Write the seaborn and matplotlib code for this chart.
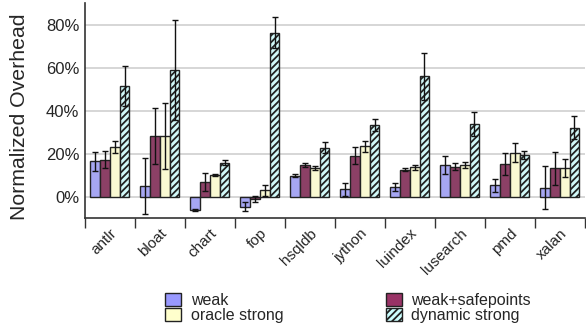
import numpy as np
import pandas as pd
import matplotlib
matplotlib.use("Agg")
import matplotlib.pyplot as plt
from matplotlib.patches import Patch
import seaborn as sns

categories = ["antlr", "bloat", "chart", "fop", "hsqldb", "jython", "luindex", "lusearch", "pmd", "xalan"]
series = ["weak", "weak+safepoints", "oracle strong", "dynamic strong"]
weak = [16.5, 4.9, -6.2, -4.8, 9.8, 3.4, 4.3, 14.6, 5.2, 4.2]
weak_err = [4.4, 13.2, 0.6, 2.1, 0.9, 3.0, 1.8, 4.1, 3.1, 10.0]
safepoints = [17.2, 28.2, 6.8, -1.1, 14.8, 19.1, 12.6, 14.0, 15.1, 13.2]
safepoints_err = [3.9, 13.0, 4.4, 1.2, 0.8, 3.8, 0.8, 1.7, 5.2, 7.6]
oracle = [23.1, 28.2, 10.0, 2.9, 13.5, 23.4, 13.7, 14.8, 20.5, 13.5]
oracle_err = [3.0, 15.4, 0.3, 2.5, 0.9, 2.7, 1.1, 1.4, 4.3, 4.2]
dynamic = [51.4, 58.8, 15.8, 76.3, 22.8, 33.4, 56.0, 33.8, 19.2, 32.0]
dynamic_err = [9.3, 23.3, 1.2, 7.2, 2.7, 2.9, 11.0, 5.7, 1.8, 5.4]
yticks = [0, 20, 40, 60, 80]

values = [weak, safepoints, oracle, dynamic]
errors = [weak_err, safepoints_err, oracle_err, dynamic_err]
colors = ["#9999FF", "#993366", "#FFFFCC", "#CCFFFF"]

rows = []
for s, vals in zip(series, values):
    for c, v in zip(categories, vals):
        rows.append({"benchmark": c, "series": s, "value": v})
df = pd.DataFrame(rows)

sns.set_style("white")
plt.rcParams["font.family"] = ["Liberation Sans", "DejaVu Sans"]
plt.rcParams["hatch.linewidth"] = 1.3

fig = plt.figure(figsize=(5.86, 3.25), dpi=100)
ax = fig.add_axes([0.145, 0.329, 0.853, 0.661])

sns.barplot(data=df, x="benchmark", y="value", hue="series", hue_order=series,
            order=categories, palette=colors, width=0.78, gap=0,
            edgecolor="#222222", linewidth=1.0, errorbar=None, legend=False,
            ax=ax, zorder=3)

bar_containers = list(ax.containers)
for i, cont in enumerate(bar_containers):
    if i == 3:
        for bar in cont.patches:
            bar.set_hatch("/////")
    xs = [b.get_x() + b.get_width() / 2 for b in cont.patches]
    ax.errorbar(xs, values[i], yerr=errors[i], fmt="none", ecolor="#111111",
                elinewidth=1.0, capsize=2.5, capthick=1.0, zorder=4)

ax.set_xlim(-0.5, len(categories) - 0.5)
ax.set_ylim(-10, 90)
ax.set_yticks(yticks)
ax.set_yticklabels([f"{t}%" for t in yticks], fontsize=12)
ax.yaxis.grid(True, color="#d0d0d0", linewidth=1.2, zorder=0)
ax.set_axisbelow(True)
ax.tick_params(axis="y", length=0, pad=4)

ax.set_xticks(np.arange(len(categories)))
ax.set_xticklabels(categories, rotation=45, ha="right", rotation_mode="anchor", fontsize=11)
ax.tick_params(axis="x", which="major", length=0, pad=6)
ax.set_xticks(np.arange(len(categories) + 1) - 0.5, minor=True)
ax.tick_params(axis="x", which="minor", bottom=True, length=7, direction="out",
               color="#333333", width=1)
ax.set_xlabel("")
ax.set_ylabel("Normalized Overhead", fontsize=15.3)
ax.yaxis.set_label_coords(-0.112, 0.47)

for sp in ["top", "right"]:
    ax.spines[sp].set_visible(False)
for sp in ["left", "bottom"]:
    ax.spines[sp].set_color("#333333")
    ax.spines[sp].set_linewidth(1.2)

handles = []
for s, c in zip(series, colors):
    p = Patch(facecolor=c, edgecolor="#222222", linewidth=1.0, label=s)
    if s == "dynamic strong":
        p.set_hatch("/////")
    handles.append(p)
order = [0, 2, 1, 3]
fig.legend([handles[k] for k in order], [series[k] for k in order],
           ncol=2, loc="lower left", bbox_to_anchor=(0.282, 0.005),
           frameon=False, fontsize=11.5, handlelength=1.0, handleheight=0.9,
           handletextpad=0.6, columnspacing=6.4, labelspacing=0.0,
           borderpad=0, borderaxespad=0)

fig.savefig("out.png", dpi=100)
